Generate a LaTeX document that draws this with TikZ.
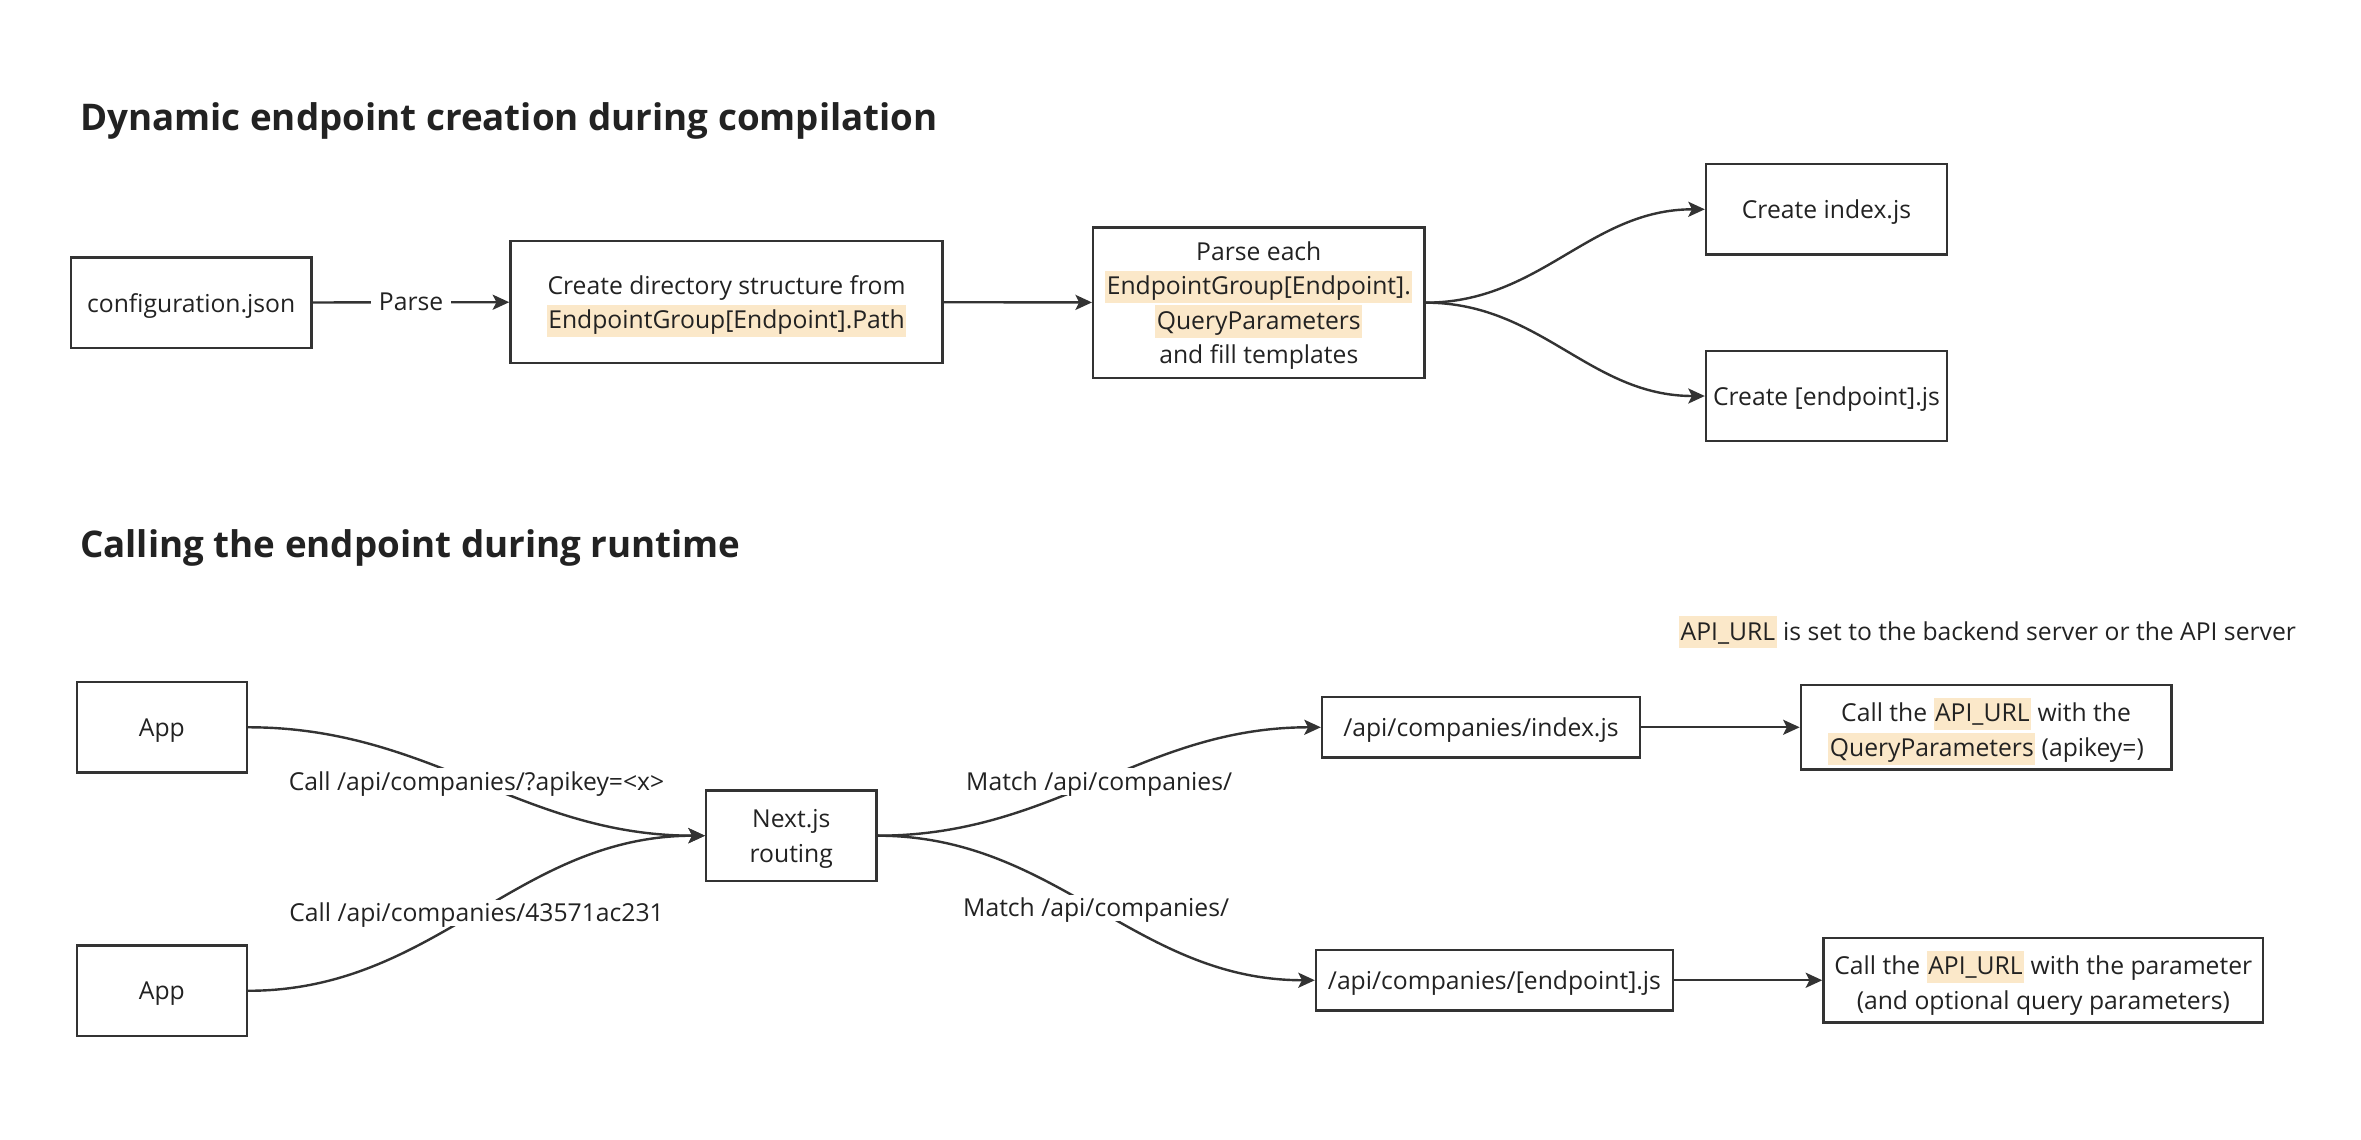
\documentclass[tikz,border=0pt]{standalone}
\usepackage{fontspec}
\setmainfont{Open Sans}
\usetikzlibrary{arrows.meta}
\definecolor{hlcol}{HTML}{FBE8C9}
\definecolor{linecol}{HTML}{333333}
\definecolor{textcol}{HTML}{222222}
\newcommand{\hl}[1]{{\setlength{\fboxsep}{0pt}\colorbox{hlcol}{\rule[-0.33em]{0pt}{1.3em}\kern1pt#1\kern1pt}}}
\begin{document}
\begin{tikzpicture}[x=1pt,y=-1pt,
	font=\fontsize{16.4}{23}\selectfont, text=textcol,
	box/.style={draw=linecol, line width=1.6pt, align=center, inner sep=0pt, text depth=0pt},
	arr/.style={-{Stealth[length=11pt,width=10pt,inset=2.5pt]}, draw=linecol, line width=1.6pt},
	lbl/.style={fill=white, inner xsep=5pt, inner ysep=2pt, text depth=0.1em},
	title/.style={font=\fontsize{24.4}{28}\selectfont\bfseries, anchor=west, inner sep=0pt}]
	\useasboundingbox (0,0) rectangle (1568,757);
	\node[title] (t1) at (53,80) {Dynamic endpoint creation during compilation};
	\node[box, minimum width=160, minimum height=60] (conf) at (127,201) {configuration.json};
	\node[box, minimum width=287, minimum height=81] (dir) at (482.5,200.5) {Create directory structure from\\\hl{EndpointGroup[Endpoint].Path}};
	\node[box, minimum width=220, minimum height=100] (each) at (836,201) {Parse each\\\hl{EndpointGroup[Endpoint].}\\\hl{QueryParameters}\\and fill templates};
	\node[box, minimum width=160, minimum height=60] (idx) at (1213,139) {Create index.js};
	\node[box, minimum width=160, minimum height=60] (ep) at (1213,263) {Create [endpoint].js};
	\draw[arr] (conf) -- node[lbl]{Parse} (dir);
	\draw[arr] (dir) -- (each);
	\draw[arr] (each.east) to[out=0,in=180] (idx.west);
	\draw[arr] (each.east) to[out=0,in=180] (ep.west);
	\node[title] (t2) at (53,364) {Calling the endpoint during runtime};
	\node[anchor=west, inner sep=0pt] (note) at (1115,420) {\hl{API\_URL} is set to the backend server or the API server};
	\node[box, minimum width=113, minimum height=60] (app1) at (107.5,483) {App};
	\node[box, minimum width=113, minimum height=60] (app2) at (107.5,658) {App};
	\node[box, minimum width=113, minimum height=60] (next) at (525.5,555) {Next.js\\routing};
	\node[box, minimum width=211, minimum height=40] (pidx) at (983.5,483) {/api/companies/index.js};
	\node[box, minimum width=237, minimum height=40] (pep) at (992.5,651) {/api/companies/[endpoint].js};
	\node[box, minimum width=246, minimum height=56] (cidx) at (1319,483) {Call the \hl{API\_URL} with the\\\hl{QueryParameters} (apikey=)};
	\node[box, minimum width=292, minimum height=56] (cep) at (1357,651) {Call the \hl{API\_URL} with the parameter\\(and optional query parameters)};
	\draw[arr] (app1.east) to[out=0,in=180] node[lbl]{Call /api/companies/?apikey=<x>} (next.west);
	\draw[arr] (app2.east) to[out=0,in=180] node[lbl]{Call /api/companies/43571ac231} (next.west);
	\draw[arr] (next.east) to[out=0,in=180] node[lbl]{Match /api/companies/} (pidx.west);
	\draw[arr] (next.east) to[out=0,in=180] node[lbl]{Match /api/companies/} (pep.west);
	\draw[arr] (pidx) -- (cidx);
	\draw[arr] (pep) -- (cep);
\end{tikzpicture}
\end{document}
